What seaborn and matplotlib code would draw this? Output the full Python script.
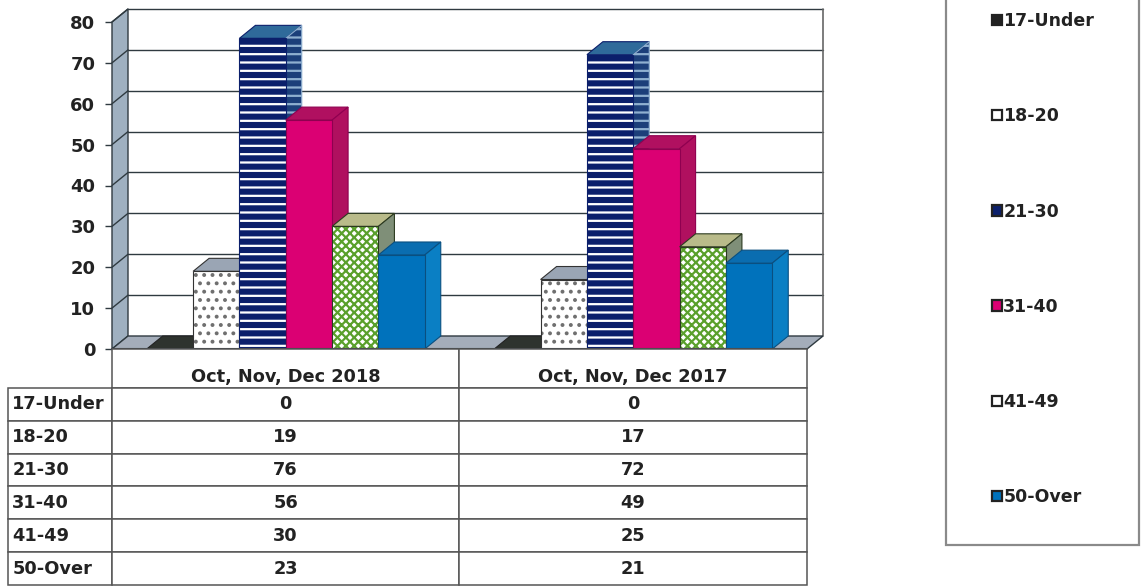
import pandas as pd
import matplotlib.pyplot as plt
import seaborn as sns
from matplotlib.patches import Patch, Polygon, Rectangle

periods = ['Oct, Nov, Dec 2018', 'Oct, Nov, Dec 2017']
groups = ['17-Under', '18-20', '21-30', '31-40', '41-49', '50-Over']
vals_2018 = [0, 19, 76, 56, 30, 23]
vals_2017 = [0, 17, 72, 49, 25, 21]
yticks = [0, 10, 20, 30, 40, 50, 60, 70, 80]

fronts = ['#222222', '#ffffff', '#0b1f6b', '#db0073', '#ffffff', '#0072bc']
hatches = [None, '..', '--', None, 'xxxx', None]
hatch_cols = ['#222222', '#6f6f6f', '#ffffff', '#db0073', '#5aa02c', '#0072bc']
tops = ['#2e332e', '#9aa5b4', '#2f6a9a', '#b01060', '#b9bb8a', '#0a6db0']
sides = ['#2e332e', '#8a94a0', '#1c3f7a', '#b0105f', '#7f8f78', '#0a7fc4']
outlines = ['#222222', '#333333', '#0b1f6b', '#8f0050', '#2c3a20', '#0a4f80']

W, H = 1142, 587
sns.set_style('white')
plt.rcParams['font.family'] = ['DejaVu Sans']
plt.rcParams['hatch.linewidth'] = 1.6
plt.rcParams['font.weight'] = 'bold'
txt = '#222222'
line = '#2f3a40'

def box(x0, y0, x1, y1):
    return [x0 / W, 1 - y1 / H, (x1 - x0) / W, (y1 - y0) / H]

df = pd.DataFrame({
    'period': [periods[0]] * 6 + [periods[1]] * 6,
    'group': groups * 2,
    'value': vals_2018 + vals_2017,
})

fig = plt.figure(figsize=(W / 100, H / 100), dpi=100)
ax = fig.add_axes(box(112, 22, 807, 349))
sns.barplot(data=df, x='period', y='value', hue='group', order=periods, hue_order=groups,
            palette=fronts, saturation=1, width=0.8, gap=0, legend=False, ax=ax, zorder=10)
ax.set_xlim(-0.5, 1.5)
ax.set_ylim(0, 80)
ax.set_xlabel('')
ax.set_ylabel('')
ax.set_xticks([])
ax.set_yticks(yticks)
ax.tick_params(axis='y', left=True, length=5, width=1, color=line, labelsize=13, pad=7, labelcolor=txt)
for s in ax.spines.values():
    s.set_visible(False)
ax.patch.set_visible(False)

# depth of the fake 3d look, in data units
dx = 16 / 347.5
dy = 13 / (327 / 80)

# walls and floor
ax.add_patch(Polygon([(-0.5, 0), (-0.5 + dx, dy), (-0.5 + dx, 80 + dy), (-0.5, 80)], closed=True,
                     fc='#9fb0c0', ec=line, lw=1, clip_on=False, zorder=2))
ax.add_patch(Polygon([(-0.5, 0), (-0.5 + dx, dy), (1.5 + dx, dy), (1.5, 0)], closed=True,
                     fc='#a4adba', ec=line, lw=1, clip_on=False, zorder=2))
for t in yticks[1:]:
    ax.plot([-0.5 + dx, 1.5 + dx], [t + dy, t + dy], color=line, lw=1, clip_on=False, zorder=1)
    ax.plot([-0.5, -0.5 + dx], [t, t + dy], color=line, lw=1, clip_on=False, zorder=3)
ax.plot([1.5 + dx, 1.5 + dx], [dy, 80 + dy], color='#666666', lw=1.2, clip_on=False, zorder=1)
ax.plot([-0.5, 1.5], [0, 0], color=line, lw=1.5, clip_on=False, zorder=30)

# 3d faces for each bar, built from the bars seaborn drew
for i, cont in enumerate(ax.containers):
    z = 10 + i * 2
    for bar in cont:
        x0, w, h = bar.get_x(), bar.get_width(), bar.get_height()
        bar.set_zorder(z + 1)
        bar.set_linewidth(0)
        if hatches[i]:
            bar.set_hatch(hatches[i])
            bar.set_edgecolor(hatch_cols[i])
        ax.add_patch(Rectangle((x0, 0), w, h, fill=False, ec=outlines[i], lw=0.8, zorder=z + 1))
        ax.add_patch(Polygon([(x0, h), (x0 + dx, h + dy), (x0 + w + dx, h + dy), (x0 + w, h)], closed=True,
                             fc=tops[i], ec=outlines[i], lw=0.8, clip_on=False, zorder=z))
        side_hatch = '--' if i == 2 else None
        ax.add_patch(Polygon([(x0 + w, 0), (x0 + w + dx, dy), (x0 + w + dx, h + dy), (x0 + w, h)], closed=True,
                             fc=sides[i], ec='#8fb0d0' if i == 2 else outlines[i], hatch=side_hatch,
                             lw=0.8, clip_on=False, zorder=z))

# data table
tab_ax = fig.add_axes(box(8, 349, 807, 585))
tab_ax.axis('off')
cells = [['', periods[0], periods[1]]]
for g, a, b in zip(groups, vals_2018, vals_2017):
    cells.append([g, str(a), str(b)])
tab = tab_ax.table(cellText=cells, colWidths=[104 / 799, 347 / 799, 348 / 799], bbox=[0, 0, 1, 1], cellLoc='center')
tab.auto_set_font_size(False)
tab.set_fontsize(12.8)
for (r, c), cell in tab.get_celld().items():
    cell.set_height(39 if r == 0 else 33)
    cell.set_edgecolor('#555555')
    cell.set_linewidth(1.1)
    cell.get_text().set_color(txt)
    cell.get_text().set_fontweight('bold')
    if c == 0:
        cell.get_text().set_ha('left')
        cell.PAD = 0.04
    if r == 0:
        cell.get_text().set_va('top')
    if r == 0 and c == 0:
        cell.set_visible(False)

# legend
fig.patches.append(Rectangle((946 / W, 1 - 545 / H), 193 / W, 545 / H + 0.02, transform=fig.transFigure,
                             fc='white', ec='#8a8a8a', lw=1.6))
handles = [Patch(facecolor=fronts[i], edgecolor='#222222', linewidth=1.6, label=groups[i]) for i in range(6)]
fig.legend(handles=handles, loc='upper left', bbox_to_anchor=(992 / W, 1 - 12 / H), frameon=False,
           handlelength=0.55, handleheight=0.55, handletextpad=0.1, labelspacing=4.45, borderpad=0,
           borderaxespad=0, prop={'size': 12.5, 'weight': 'bold'}, labelcolor=txt)

plt.savefig('out.png', dpi=100)
